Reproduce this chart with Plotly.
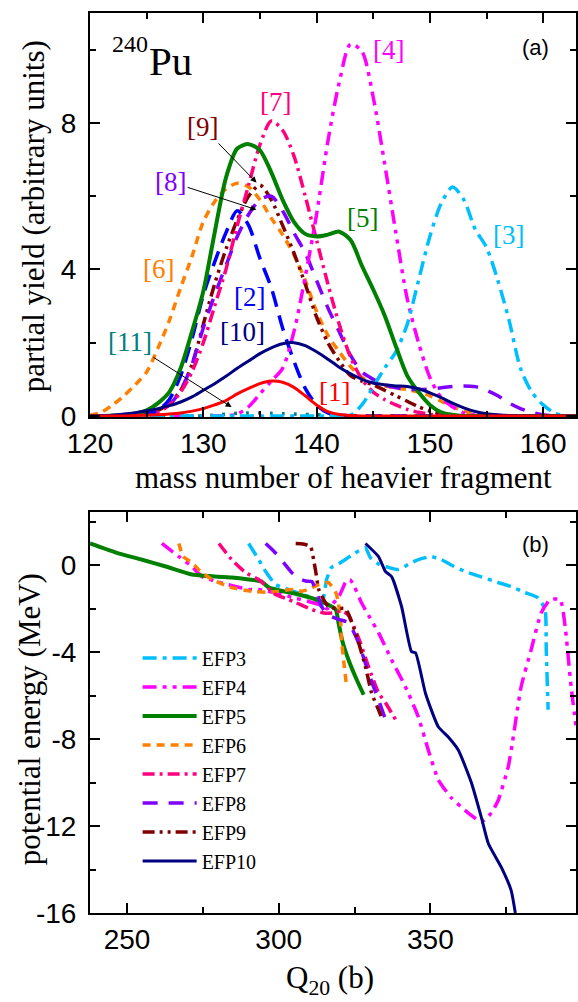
import plotly.graph_objects as go

# ---------------- data: panel (a) ----------------
mass = [120, 121, 122, 123, 124, 125, 126, 127, 128, 129,
        130, 131, 132, 133, 134, 135, 136, 137, 138, 139,
        140, 141, 142, 143, 144, 145, 146, 147, 148, 149,
        150, 151, 152, 153, 154, 155, 156, 157, 158, 159,
        160, 161, 162, 163]

yield_1 = [0, 0, 0, 0, 0.01, 0.02, 0.03, 0.05, 0.08, 0.13,
           0.2, 0.3, 0.42, 0.6, 0.75, 0.88, 0.95, 0.92, 0.78, 0.55,
           0.3, 0.12, 0.04, 0.01, 0, 0, 0, 0, 0, 0,
           0, 0, 0, 0, 0, 0, 0, 0, 0, 0,
           0, 0, 0, 0]
yield_2 = [0, 0, 0, 0, 0.02, 0.05, 0.15, 0.45, 1.1, 2.1,
           3.3, 4.2, 5.0, 5.6, 5.2, 4.3, 3.5, 2.4, 1.5, 0.75,
           0.3, 0.08, 0.02, 0, 0, 0, 0, 0, 0, 0,
           0, 0, 0, 0, 0, 0, 0, 0, 0, 0,
           0, 0, 0, 0]
yield_3 = [0, 0, 0, 0, 0, 0, 0, 0, 0, 0,
           0, 0, 0, 0, 0, 0, 0, 0, 0, 0,
           0, 0, 0, 0.02, 0.3, 0.8, 1.3, 1.75, 2.5, 3.7,
           4.9, 5.8, 6.25, 5.9, 5.1, 4.6, 3.7, 2.6, 1.3, 0.65,
           0.3, 0.08, 0, 0]
yield_4 = [0, 0, 0, 0, 0, 0, 0, 0, 0, 0,
           0, 0, 0, 0.05, 0.25, 0.6, 0.95, 1.3, 2.3, 3.8,
           5.5, 7.5, 9.1, 10.15, 9.95, 8.7, 6.9, 5.0, 3.2, 2.0,
           1.05, 0.5, 0.25, 0.08, 0.02, 0, 0, 0, 0, 0,
           0, 0, 0, 0]
yield_5 = [0, 0, 0.01, 0.02, 0.06, 0.15, 0.35, 0.65, 1.3, 2.3,
           3.4, 5.0, 6.5, 7.3, 7.42, 7.25, 6.65, 5.9, 5.3, 4.97,
           4.9, 4.95, 5.03, 4.8, 4.1, 3.45, 2.75, 1.9, 1.1, 0.65,
           0.3, 0.1, 0.03, 0, 0, 0, 0, 0, 0, 0,
           0, 0, 0, 0]
yield_6 = [0.02, 0.1, 0.3, 0.55, 0.85, 1.2, 1.85, 2.6, 3.5, 4.35,
           5.3, 5.85, 6.2, 6.35, 6.25, 5.9, 5.4, 4.95, 4.4, 3.7,
           2.85, 2.2, 1.75, 1.35, 1.05, 0.9, 0.82, 0.76, 0.72, 0.65,
           0.55, 0.4, 0.25, 0.13, 0.05, 0.02, 0, 0, 0, 0,
           0, 0, 0, 0]
yield_7 = [0, 0, 0, 0, 0, 0.03, 0.1, 0.3, 0.65, 1.2,
           2.0, 3.0, 4.0, 5.2, 6.3, 7.4, 8.05, 7.8, 7.1, 6.0,
           4.8, 3.6, 2.5, 1.6, 1.0, 0.65, 0.45, 0.3, 0.18, 0.1,
           0.05, 0.02, 0, 0, 0, 0, 0, 0, 0, 0,
           0, 0, 0, 0]
yield_8 = [0, 0, 0, 0, 0.02, 0.05, 0.12, 0.3, 0.7, 1.4,
           2.4, 3.3, 4.1, 4.9, 5.5, 5.9, 6.0, 5.6, 5.0, 4.45,
           3.7, 2.95, 2.3, 1.65, 1.2, 1.0, 0.85, 0.77, 0.73, 0.72,
           0.73, 0.77, 0.8, 0.82, 0.8, 0.7, 0.55, 0.35, 0.2, 0.1,
           0.03, 0, 0, 0]
yield_9 = [0, 0, 0, 0, 0.02, 0.06, 0.15, 0.35, 0.7, 1.4,
           2.5, 3.6, 4.55, 5.35, 6.0, 6.3, 5.9, 5.2, 4.45, 3.6,
           2.7, 2.0, 1.5, 1.1, 0.95, 0.85, 0.7, 0.55, 0.4, 0.25,
           0.13, 0.05, 0.02, 0, 0, 0, 0, 0, 0, 0,
           0, 0, 0, 0]
yield_10 = [0, 0.01, 0.02, 0.05, 0.09, 0.14, 0.2, 0.28, 0.38, 0.52,
            0.7, 0.88, 1.08, 1.3, 1.5, 1.7, 1.86, 1.97, 2.0, 1.92,
            1.75, 1.55, 1.33, 1.15, 1.0, 0.9, 0.85, 0.82, 0.8, 0.74,
            0.63, 0.5, 0.35, 0.22, 0.12, 0.06, 0.03, 0.01, 0, 0,
            0, 0, 0, 0]
yield_11 = [0, 0, 0, 0, 0, 0, 0, 0, 0, 0,
            0, 0.02, 0.05, 0.07, 0.08, 0.08, 0.07, 0.06, 0.05, 0.04,
            0.03, 0.02, 0.01, 0, 0, 0, 0, 0, 0, 0,
            0, 0, 0, 0, 0, 0, 0, 0, 0, 0,
            0, 0, 0, 0]

series_labels = ["[1]", "[2]", "[3]", "[4]", "[5]", "[6]", "[7]", "[8]", "[9]", "[10]", "[11]"]
label_x = [141.55, 134.07, 156.94, 146.39, 144.01, 126.07, 136.36, 127.12, 129.94, 133.46, 123.52]
label_y = [0.65, 3.24, 4.95, 9.99, 5.41, 4.0, 8.57, 6.39, 7.89, 2.29, 2.01]
# arrow tips for labels [8], [9], [11] (points on their curves)
arrow_tip = {8: (134.7, 5.63), 9: (134.7, 6.37), 11: (132.5, 0.24)}

# ---------------- data: panel (b) ----------------
q_efp3 = [290.1, 293.4, 295.7, 299.0, 303.3, 308.0, 312.2, 314.1, 315.8, 317.4, 319.0, 322.0, 325.0,
          328.6, 330.2, 333.0, 336.2, 339.5, 343.8, 347.0, 350.3, 353.6, 357.0, 361.5, 367.0, 372.0,
          376.6, 381.0, 385.5, 387.8, 388.2, 388.8]
e_efp3 = [1.0, 0.26, -0.29, -0.89, -1.12, -1.35, -1.58, -1.9, -0.66, -0.1, 0.0, 0.26, 0.55,
          0.8, 0.35, 0.05, -0.1, -0.2, 0.12, 0.3, 0.4, 0.26, 0.0, -0.29, -0.55, -0.78,
          -0.98, -1.25, -1.5, -2.04, -3.9, -6.65]
q_efp4 = [261.5, 267.1, 271.4, 274.7, 279.3, 285.0, 290.1, 293.4, 300.0, 305.0, 309.9, 313.2, 316.0,
          320.0, 322.0, 323.5, 325.0, 327.3, 330.0, 332.9, 337.2, 341.8, 346.0, 349.3, 352.6, 356.9,
          362.5, 366.8, 370.1, 372.4, 375.7, 377.0, 379.9, 383.2, 386.5, 389.5, 392.8, 394.4, 396.4, 398.0]
e_efp4 = [1.0, 0.4, -0.06, -0.52, -0.75, -0.95, -1.12, -1.12, -1.3, -1.5, -1.67, -1.8, -2.0,
          -1.4, -0.8, -0.66, -1.0, -1.73, -2.4, -3.1, -4.35, -5.6, -6.97, -8.5, -9.87, -10.7,
          -11.4, -11.8, -11.4, -10.8, -9.25, -8.2, -5.6, -3.9, -2.2, -1.58, -1.58, -2.8, -5.6, -7.4]
q_efp5 = [237.8, 246.4, 255.0, 262.8, 271.4, 277.0, 284.5, 290.1, 294.4, 296.7, 300.0, 306.6,
          314.1, 318.8, 319.7, 321.0, 323.0, 325.5, 328.0]
e_efp5 = [1.0, 0.58, 0.25, -0.06, -0.43, -0.5, -0.57, -0.66, -0.75, -1.03, -1.15, -1.35,
          -1.67, -2.04, -2.64, -3.5, -4.35, -5.2, -5.96]
q_efp6 = [267.1, 268.5, 271.4, 274.0, 278.0, 284.5, 291.1, 296.0, 300.0, 304.0, 307.6, 310.0,
          313.0, 316.4, 318.8, 319.5, 320.4, 320.7, 321.5, 322.4]
e_efp6 = [1.0, 0.4, 0.12, -0.25, -0.66, -1.03, -1.2, -1.25, -1.2, -1.12, -1.2, -1.1,
          -0.9, -0.8, -1.26, -1.6, -2.5, -3.4, -4.5, -5.6]
q_efp7 = [280.3, 284.5, 289.1, 293.4, 299.0, 303.3, 305.6, 310.9, 315.0, 318.0, 321.0, 323.0,
          325.0, 327.0, 329.6, 332.9, 335.2, 338.5]
e_efp7 = [1.0, 0.26, -0.34, -0.66, -1.35, -1.58, -1.72, -2.04, -2.2, -2.2, -2.1, -2.3,
          -2.9, -3.6, -4.67, -5.87, -6.33, -7.1]
q_efp8 = [295.7, 298.0, 300.0, 302.0, 304.3, 306.5, 308.9, 310.9, 312.5, 314.1, 316.4, 320.0,
          323.0, 326.3, 329.6, 332.9, 335.2]
e_efp8 = [1.0, 0.7, 0.4, 0.05, -0.34, -0.6, -0.73, -0.75, -1.2, -1.9, -2.3, -2.5,
          -2.64, -3.56, -4.95, -6.2, -7.1]
q_efp9 = [305.6, 308.0, 310.5, 311.5, 312.2, 313.2, 314.8, 316.4, 319.1, 322.0, 325.3, 328.6,
          330.6, 332.9, 333.9]
e_efp9 = [1.0, 0.98, 0.86, 0.26, -0.29, -1.12, -1.58, -1.9, -2.0, -2.0, -3.1, -4.67,
          -5.87, -6.65, -7.0]
q_efp10 = [328.6, 332.9, 335.2, 337.2, 340.5, 343.8, 345.1, 348.4, 352.6, 355.9, 359.2, 363.5,
           366.8, 369.1, 373.4, 376.6, 378.0]
e_efp10 = [1.0, 0.4, -0.29, -0.52, -1.9, -3.98, -4.03, -5.9, -7.43, -7.9, -8.5, -10.0,
           -11.6, -12.8, -13.9, -14.95, -16.0]

efp_names = ["EFP3", "EFP4", "EFP5", "EFP6", "EFP7", "EFP8", "EFP9", "EFP10"]
energy_ticks = [-16, -12, -8, -4, 0]
energy_ticktext = ["-16", "-12", "-8", "-4", "0"]

# ---------------- styles ----------------
colors = {1: "#FF0000", 2: "#0000FF", 3: "#00BFFF", 4: "#FF00FF", 5: "#008000",
          6: "#FF8000", 7: "#FF0080", 8: "#8000FF", 9: "#800000", 10: "#000080", 11: "#008080"}
dashes = {1: "solid", 2: "16px,9px", 3: "14px,6px,4px,6px", 4: "14px,6px,4px,6px,4px,6px",
          5: "solid", 6: "8px,6px", 7: "12px,5px,3px,5px", 8: "15px,11px",
          9: "12px,5px,3px,5px,3px,5px", 10: "solid", 11: "3px,9px"}
widths = {1: 3, 2: 3.5, 3: 3.5, 4: 3.5, 5: 4, 6: 3.5, 7: 3.5, 8: 3.5, 9: 3.5, 10: 3, 11: 3.5}

SERIF = "Liberation Serif"
SANS = "Liberation Sans"

yields = {1: yield_1, 2: yield_2, 3: yield_3, 4: yield_4, 5: yield_5, 6: yield_6,
          7: yield_7, 8: yield_8, 9: yield_9, 10: yield_10, 11: yield_11}

fig = go.Figure()

draw_order = [11, 6, 9, 8, 7, 2, 4, 3, 5, 10, 1]
for k in draw_order:
    fig.add_trace(go.Scatter(
        x=mass, y=yields[k], mode="lines", xaxis="x", yaxis="y", showlegend=False,
        line=dict(color=colors[k], dash=dashes[k], width=widths[k], shape="spline", smoothing=0.8),
        hoverinfo="skip"))

bottom = [(3, q_efp3, e_efp3), (4, q_efp4, e_efp4), (5, q_efp5, e_efp5), (6, q_efp6, e_efp6),
          (7, q_efp7, e_efp7), (8, q_efp8, e_efp8), (9, q_efp9, e_efp9), (10, q_efp10, e_efp10)]
for (k, q, e), name in zip(bottom, efp_names):
    fig.add_trace(go.Scatter(
        x=q, y=e, mode="lines", xaxis="x2", yaxis="y2", name=name, showlegend=True,
        line=dict(color=colors[k], dash=dashes[k], width=widths[k], shape="spline", smoothing=0.5),
        hoverinfo="skip"))

annotations = []
for i, lab in enumerate(series_labels):
    k = i + 1
    font = dict(family=SERIF, size=27, color=colors[k])
    if k in arrow_tip:
        tx, ty = arrow_tip[k]
        annotations.append(dict(x=tx, y=ty, xref="x", yref="y", ax=label_x[i], ay=label_y[i],
                                axref="x", ayref="y", text=lab, xanchor="center", yanchor="middle",
                                showarrow=True, arrowhead=2, arrowsize=1.2, arrowwidth=1,
                                arrowcolor="black", standoff=0, font=font))
    else:
        annotations.append(dict(x=label_x[i], y=label_y[i], xref="x", yref="y", text=lab,
                                xanchor="center", yanchor="middle", showarrow=False, font=font))


def paper_text(x, y, text, family, size, angle=0):
    return dict(x=x, y=y, xref="paper", yref="paper", text=text, showarrow=False,
                xanchor="center", yanchor="middle", textangle=angle,
                font=dict(family=family, size=size, color="black"))


annotations += [
    paper_text(0.082, 0.9656, "240", SERIF, 24),
    paper_text(0.166, 0.9467, "Pu", SERIF, 41),
    paper_text(0.916, 0.962, "(a)", SANS, 22),
    paper_text(0.916, 0.409, "(b)", SANS, 22),
    paper_text(0.5225, 0.4844, "mass number of heavier fragment", SERIF, 31),
    paper_text(0.494, -0.0744, "Q<sub>20</sub> (b)", SERIF, 31),
    paper_text(-0.1168, 0.7744, "partial yield (arbitrary units)", SERIF, 31, -90),
    paper_text(-0.123, 0.2156, "potential energy (MeV)", SERIF, 31, -90),
]

axis_common = dict(showline=True, linecolor="black", linewidth=2, ticks="inside", ticklen=10,
                   tickwidth=2, tickcolor="black", showgrid=False, zeroline=False, mirror="ticks",
                   tickfont=dict(family=SANS, size=28, color="black"))

fig.update_layout(
    width=578, height=1002,
    margin=dict(l=90, r=0, t=13, b=89),
    paper_bgcolor="white", plot_bgcolor="white",
    xaxis=dict(domain=[0, 1], anchor="y", range=[120, 162.9], tickvals=[120, 130, 140, 150, 160],
               minor=dict(dtick=5, tick0=120, ticks="inside", ticklen=6, tickwidth=2,
                          tickcolor="black"), **axis_common),
    yaxis=dict(domain=[0.5511, 1], anchor="x", range=[-0.03, 11], tickvals=[0, 4, 8],
               ticklabelstandoff=6,
               minor=dict(tickvals=[2, 6, 10], ticks="inside", ticklen=6, tickwidth=2, tickcolor="black"),
               **axis_common),
    xaxis2=dict(domain=[0, 1], anchor="y2", range=[237.8, 398], tickvals=[250, 300, 350],
                minor=dict(dtick=25, tick0=250, ticks="inside", ticklen=6, tickwidth=2,
                           tickcolor="black"), **axis_common),
    yaxis2=dict(domain=[0, 0.4456], anchor="x2", range=[-16, 2.45], tickvals=energy_ticks,
                ticktext=energy_ticktext, ticklabelstandoff=6,
                minor=dict(tickvals=[-14, -10, -6, -2, 2], ticks="inside", ticklen=6, tickwidth=2,
                           tickcolor="black"), **axis_common),
    legend=dict(x=0.098, y=0.305, xanchor="left", yanchor="top", bgcolor="rgba(0,0,0,0)",
                font=dict(family=SERIF, size=20, color="black"), tracegroupgap=0, itemwidth=54),
    annotations=annotations,
)

fig.write_html("out.html")
